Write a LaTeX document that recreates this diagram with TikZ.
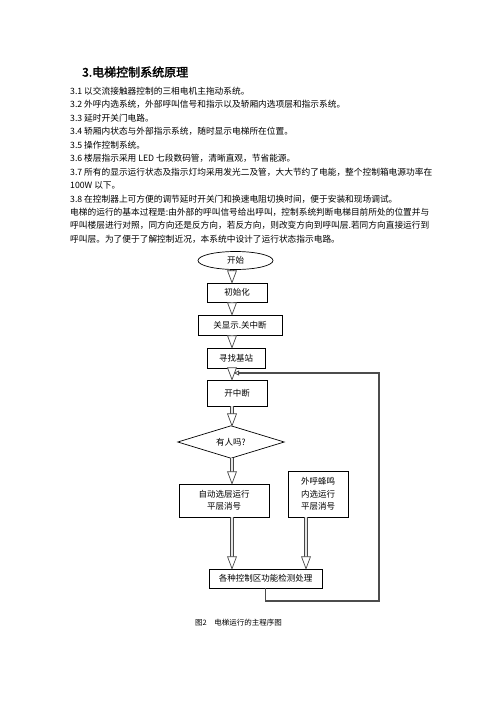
\documentclass[tikz,border=0pt]{standalone}
\usepackage{fontspec}
\setmainfont{Noto Sans CJK SC}[AutoFakeBold=2]
\usetikzlibrary{shapes.geometric,arrows.meta,calc}
\tikzset{
  txt/.style={anchor=west, inner sep=0pt, font=\fontsize{8.7}{10}\selectfont},
  box/.style={draw, line width=0.7pt, inner sep=0pt, align=center, font=\fontsize{8.5}{12.5}\selectfont},
  dblshaft/.style={draw=gray!55!black, double=gray!20, double distance=2pt, line width=0.7pt},
  dblhead/.style={draw=gray!55!black, fill=white, line width=0.7pt, line join=miter},
  fb/.style={draw=gray!60!black, line width=1.1pt, -{Triangle[open, length=5pt, width=5pt, line width=0.8pt]}}
}
\newcommand\dblarrow[2]{%
  \draw[dblshaft] (#1) -- ($(#2)+(0,-11)$);
  \draw[dblhead] (#2) -- ++(-4.5,-12) -- ++(9,0) -- cycle;}
\begin{document}
\begin{tikzpicture}[x=1pt,y=-1pt]
\useasboundingbox (0,0) rectangle (496,702);
\fill[white] (0,0) rectangle (496,702);
% heading and text
\node[anchor=west, inner sep=0pt, font=\fontsize{12}{14}\selectfont\bfseries] (title) at (82,72) {3.电梯控制系统原理};
\node[txt] (l1) at (70,91) {3.1 以交流接触器控制的三相电机主拖动系统。};
\node[txt] (l2) at (70,104.5) {3.2 外呼内选系统，外部呼叫信号和指示以及轿厢内选项层和指示系统。};
\node[txt] (l3) at (70,118) {3.3 延时开关门电路。};
\node[txt] (l4) at (70,131.5) {3.4 轿厢内状态与外部指示系统，随时显示电梯所在位置。};
\node[txt] (l5) at (70,145) {3.5 操作控制系统。};
\node[txt] (l6) at (70,158.5) {3.6 楼层指示采用 LED 七段数码管，清晰直观，节省能源。};
\node[txt] (l7) at (70,172) {3.7 所有的显示运行状态及指示灯均采用发光二及管，大大节约了电能，整个控制箱电源功率在};
\node[txt] (l8) at (70,185.5) {100W 以下。};
\node[txt] (l9) at (70,199) {3.8 在控制器上可方便的调节延时开关门和换速电阻切换时间，便于安装和现场调试。};
\node[txt] (l10) at (70,212) {电梯的运行的基本过程是:由外部的呼叫信号给出呼叫，控制系统判断电梯目前所处的位置并与};
\node[txt] (l11) at (70,225.5) {呼叫楼层进行对照，同方向还是反方向，若反方向，则改变方向到呼叫层.若同方向直接运行到};
\node[txt] (l12) at (70,239) {呼叫层。为了便于了解控制近况，本系统中设计了运行状态指示电路。};
% flowchart nodes
\node[box, ellipse, minimum width=75pt, minimum height=18pt] (start) at (235.5,260.5) {开始};
\node[box, minimum width=60pt, minimum height=19pt] (init) at (237,292.5) {初始化};
\node[box, minimum width=84pt, minimum height=20pt] (close) at (240,325) {关显示.关中断};
\node[box, minimum width=58pt, minimum height=20pt] (find) at (236,358) {寻找基站};
\node[box, minimum width=60pt, minimum height=26pt] (openint) at (237,393) {开中断};
\node[inner sep=0pt, minimum width=106pt, minimum height=32pt, font=\fontsize{8.5}{10}\selectfont] (ask) at (231,442) {有人吗?};
\draw[line width=0.7pt] (ask.west) -- (ask.north) -- (ask.east) -- (ask.south) -- cycle;
\node[box, minimum width=90pt, minimum height=33pt] (auto) at (224,500.5) {自动选层运行\\平层消号};
\node[box, minimum width=60pt, minimum height=46pt] (outer) at (318,494) {外呼蜂鸣\\内选运行\\平层消号};
\node[box, minimum width=113pt, minimum height=19pt] (proc) at (265.5,578.5) {各种控制区功能检测处理};
% arrows
\coordinate (ax) at (232,0);
\coordinate (ox) at (306,0);
\dblarrow{start.south -| ax}{init.north -| ax}
\dblarrow{init.south -| ax}{close.north -| ax}
\dblarrow{close.south -| ax}{find.north -| ax}
\dblarrow{find.south -| ax}{openint.north -| ax}
\dblarrow{openint.south -| ax}{ask.north -| ax}
\dblarrow{ask.south -| ax}{auto.north -| ax}
\dblarrow{auto.south -| ax}{proc.north -| ax}
\dblarrow{outer.south -| ox}{proc.north -| ox}
% feedback loop
\coordinate (rb) at (379,601);
\coordinate (rt) at (379,373);
\coordinate (fbtip) at (234,373);
\draw[fb] (proc.south) |- (rb) -- (rt) -- (fbtip);
% caption
\node[anchor=west, inner sep=0pt, font=\fontsize{7.5}{9}\selectfont] (cap) at (195,623) {图2\quad 电梯运行的主程序图};
\end{tikzpicture}
\end{document}
